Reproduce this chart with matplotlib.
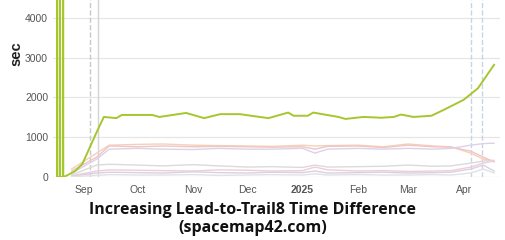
# -*- coding: utf-8 -*-
import datetime as dt
import matplotlib
matplotlib.use("Agg")
import matplotlib.pyplot as plt

# --------------------
# data
# --------------------

# main series (lead-to-trail8 time difference, seconds)
main_dates = [
    "2024-08-16 20:00", "2024-08-16 22:00", "2024-08-17 00:00",
    "2024-08-18 10:00", "2024-08-18 12:00", "2024-08-18 14:00",
    "2024-08-20 04:00", "2024-08-20 06:00", "2024-08-20 08:00",
    "2024-08-22", "2024-08-27", "2024-08-31", "2024-09-04", "2024-09-08",
    "2024-09-12", "2024-09-19", "2024-09-22", "2024-09-29", "2024-10-09",
    "2024-10-13", "2024-10-28", "2024-11-07", "2024-11-16", "2024-11-27",
    "2024-12-08", "2024-12-13", "2024-12-24", "2024-12-27", "2025-01-04",
    "2025-01-07", "2025-01-21", "2025-01-25", "2025-02-04", "2025-02-14",
    "2025-02-21", "2025-02-25", "2025-03-04", "2025-03-14", "2025-03-21",
    "2025-04-01", "2025-04-09", "2025-04-18",
]
main_values = [
    0, 6000, 0,
    0, 6000, 0,
    0, 6000, 0,
    30, 150, 330, 730, 1130,
    1510, 1480, 1560, 1560, 1560,
    1510, 1610, 1480, 1580, 1580,
    1510, 1480, 1620, 1540, 1540,
    1620, 1510, 1460, 1510, 1490,
    1510, 1570, 1510, 1540, 1690,
    1940, 2230, 2820,
]

# other (faint) series
other_dates = [
    "2024-08-25", "2024-09-08", "2024-09-15", "2024-10-01", "2024-10-15",
    "2024-11-01", "2024-11-15", "2024-12-01", "2024-12-15", "2025-01-01",
    "2025-01-08", "2025-01-15", "2025-02-01", "2025-02-15", "2025-03-01",
    "2025-03-15", "2025-03-25", "2025-04-05", "2025-04-12", "2025-04-18",
]
other_values = {
    "orange":   [200, 600, 800, 820, 830, 800, 790, 780, 770, 800,
                 780, 790, 800, 760, 830, 780, 760, 600, 450, 400],
    "pink":     [150, 500, 780, 760, 780, 760, 770, 760, 750, 760,
                 700, 770, 780, 740, 800, 760, 750, 650, 500, 380],
    "lavender": [100, 450, 700, 720, 700, 690, 720, 700, 700, 720,
                 600, 700, 720, 700, 720, 700, 720, 800, 840, 850],
    "gray":     [50, 300, 320, 300, 280, 310, 280, 250, 260, 240,
                 300, 250, 260, 270, 300, 270, 280, 350, 400, 420],
    "pink2":    [30, 150, 180, 170, 160, 150, 180, 170, 150, 160,
                 250, 180, 150, 160, 140, 150, 160, 250, 350, 400],
    "lavender2": [20, 100, 120, 110, 100, 130, 110, 100, 120, 110,
                  150, 100, 110, 120, 100, 110, 120, 200, 300, 150],
    "gray2":    [10, 40, 60, 50, 50, 60, 40, 50, 60, 50,
                 80, 50, 60, 50, 50, 60, 50, 100, 200, 100],
}
other_colors = {
    "orange": "#f3d2b8", "pink": "#f2c4c8", "lavender": "#dcd2e8",
    "gray": "#dadada", "pink2": "#f0cdd6", "lavender2": "#d8d0e6",
    "gray2": "#e2e2e2",
}

# vertical marker lines
marker_dates = ["2024-09-04", "2024-09-09", "2025-04-05", "2025-04-11"]
marker_styles = [("#c8c8cc", "--"), ("#d4d4d8", "-"), ("#c8d4e4", "--"), ("#c8d4e4", "--")]

x_ticks = ["2024-09-01", "2024-10-01", "2024-11-01", "2024-12-01", "2025-01-01",
           "2025-02-01", "2025-03-01", "2025-04-01"]
x_labels = ["Sep", "Oct", "Nov", "Dec", "2025", "Feb", "Mar", "Apr"]
y_ticks = [0, 1000, 2000, 3000, 4000]


def to_dt(s):
    if " " in s:
        return dt.datetime.strptime(s, "%Y-%m-%d %H:%M")
    return dt.datetime.strptime(s, "%Y-%m-%d")


# --------------------
# plot
# --------------------
plt.rcParams["font.family"] = ["Liberation Sans", "DejaVu Sans"]
fig = plt.figure(figsize=(5.05, 2.40), dpi=100)
ax = fig.add_axes([53 / 505, 1 - 177 / 240, (500 - 53) / 505, 177 / 240])

od = [to_dt(s) for s in other_dates]
for name, vals in other_values.items():
    ax.plot(od, vals, color=other_colors[name], lw=1.0, zorder=2)

for d, (c, ls) in zip(marker_dates, marker_styles):
    ax.axvline(to_dt(d), color=c, ls=ls, lw=1.0, zorder=1)

ax.plot([to_dt(s) for s in main_dates], main_values, color="#a6c630", lw=1.4, zorder=3)

ax.set_xlim(to_dt("2024-08-14 14:00"), to_dt("2025-04-21 08:00"))
ax.set_ylim(0, 4450)

ax.set_yticks(y_ticks)
ax.set_yticklabels([str(v) for v in y_ticks])
ax.set_xticks([to_dt(s) for s in x_ticks])
ax.set_xticklabels(x_labels)
for lab in ax.get_xticklabels():
    if lab.get_text() == "2025":
        lab.set_fontweight("bold")
        lab.set_color("#333333")

ax.tick_params(axis="both", length=0, labelsize=7.5, labelcolor="#555555")
ax.tick_params(axis="x", pad=5.5)
ax.tick_params(axis="y", pad=3.5)
ax.grid(axis="y", color="#e6e6e6", lw=0.9)
ax.set_axisbelow(True)
for sp in ax.spines.values():
    sp.set_visible(False)

ax.set_ylabel("sec", fontsize=10.5, fontweight="bold", color="#222222")
ax.yaxis.set_label_coords(-(53 - 23) / 447, (177 - 54) / 177)

# title under the chart
fig.text(0.5, 1 - 210 / 240, "Increasing Lead-to-Trail8 Time Difference",
         ha="center", va="center", fontsize=11.5, fontweight="bold",
         family=["Open Sans", "DejaVu Sans"], color="#111111")
fig.text(0.5, 1 - 228 / 240, "(spacemap42.com)",
         ha="center", va="center", fontsize=11.5, fontweight="bold",
         family=["Open Sans", "DejaVu Sans"], color="#111111")

fig.savefig("out.png", dpi=100)
